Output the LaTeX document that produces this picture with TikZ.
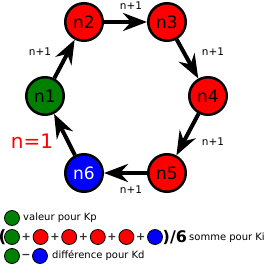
\documentclass[tikz,border=0pt]{standalone}
\usepackage{fontspec}
\setmainfont{DejaVu Sans}
\usetikzlibrary{arrows.meta}
\definecolor{ngreen}{RGB}{0,128,0}
\definecolor{nred}{RGB}{255,0,0}
\definecolor{nblue}{RGB}{0,0,255}
\tikzset{
  bignode/.style={circle, draw=black, line width=2.5pt, minimum size=37.5pt, inner sep=0pt,
    font=\fontsize{17}{18}\selectfont},
  edgearrow/.style={line width=4pt, -{Stealth[length=24pt, width=18pt, inset=8pt]}},
  edgelabel/.style={font=\fontsize{10.5}{12}\selectfont},
  dot/.style={circle, draw=black, line width=0.8pt, minimum size=15pt, inner sep=0pt},
  legtext/.style={anchor=west, font=\fontsize{10}{12}\selectfont, inner sep=0pt},
  op/.style={font=\bfseries\fontsize{11}{12}\selectfont, inner sep=0pt, text=black!80}
}
\begin{document}
\begin{tikzpicture}[x=1pt, y=-1pt]
\useasboundingbox (0,0) rectangle (264,265);
\node[bignode, fill=ngreen] (n1) at (45,96) {n1};
\node[bignode, fill=nred] (n2) at (84,22) {n2};
\node[bignode, fill=nred] (n3) at (167,22) {n3};
\node[bignode, fill=nred] (n4) at (208,96) {n4};
\node[bignode, fill=nred] (n5) at (167,173) {n5};
\node[bignode, fill=nblue, text=white] (n6) at (84,173) {n6};
\draw[edgearrow] (n1) -- (n2);
\draw[edgearrow] (n2) -- (n3);
\draw[edgearrow] (n3) -- (n4);
\draw[edgearrow] (n4) -- (n5);
\draw[edgearrow] (n5) -- (n6);
\draw[edgearrow] (n6) -- (n1);
\node[edgelabel] (l12) at (40,52) {n+1};
\node[edgelabel] (l23) at (131,6) {n+1};
\node[edgelabel] (l34) at (213,52) {n+1};
\node[edgelabel] (l45) at (213,142) {n+1};
\node[edgelabel] (l56) at (131,190) {n+1};
\node[text=nred, font=\fontsize{20}{22}\selectfont] (start) at (32,141) {n=1};
% legend row 1
\node[dot, fill=ngreen] (a1) at (12,218) {};
\node[legtext] (t1) at (23,218) {valeur pour Kp};
% legend row 2
\node[font=\bfseries\fontsize{17}{18}\selectfont, inner sep=0pt] (par) at (2.5,237) {(};
\node[dot, fill=ngreen] (b1) at (12,237) {};
\node[op] (p1) at (26.3,237) {+};
\node[dot, fill=nred] (b2) at (40.6,237) {};
\node[op] (p2) at (54.9,237) {+};
\node[dot, fill=nred] (b3) at (69.2,237) {};
\node[op] (p3) at (83.5,237) {+};
\node[dot, fill=nred] (b4) at (97.8,237) {};
\node[op] (p4) at (112.1,237) {+};
\node[dot, fill=nred] (b5) at (126.4,237) {};
\node[op] (p5) at (140.7,237) {+};
\node[dot, fill=nblue] (b6) at (155,237) {};
\node[anchor=west, font=\bfseries\fontsize{16}{18}\selectfont, inner sep=0pt] (div) at (162.5,237) {)/6};
\node[legtext] (t2) at (189,238) {somme pour Ki};
% legend row 3
\node[dot, fill=ngreen] (c1) at (12,256) {};
\node[op] (m1) at (26,256) {−};
\node[dot, fill=nblue] (c2) at (40,256) {};
\node[legtext] (t3) at (52,256) {différence pour Kd};
\end{tikzpicture}
\end{document}
